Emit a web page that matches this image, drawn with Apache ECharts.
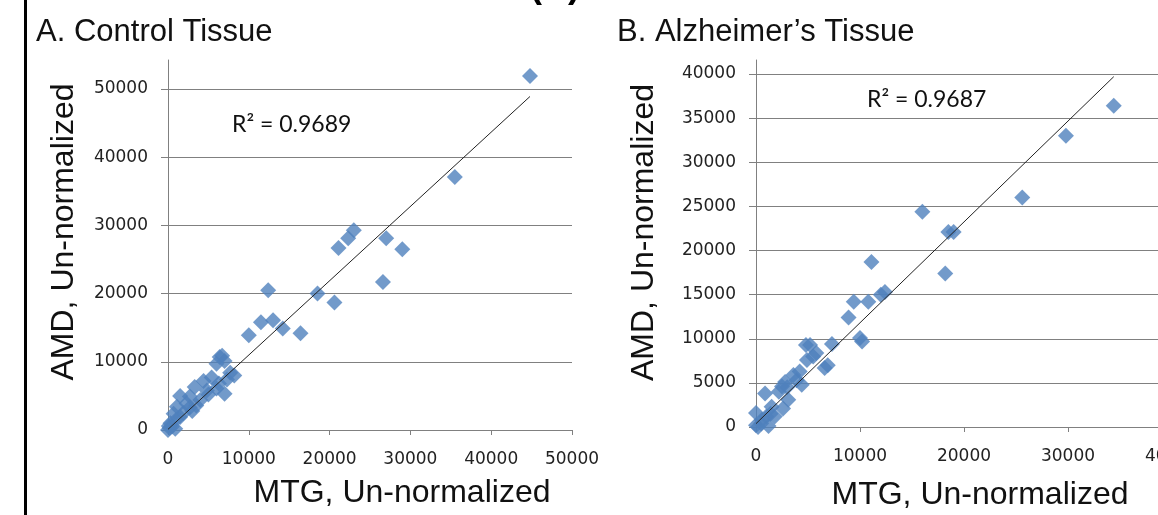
<!DOCTYPE html>
<html>
<head>
<meta charset="utf-8">
<script src="https://cdn.jsdelivr.net/npm/echarts@6/dist/echarts.min.js"></script>
<style>
html, body { margin: 0; padding: 0; background: #fff; }
#main { width: 1158px; height: 515px; }
</style>
</head>
<body>
<div id="main"></div>
<script>
// [MTG, AMD] un-normalized
const controlPoints = [
	[44800, 51900], [35500, 37100], [23000, 29300], [22300, 28100], [21100, 26700],
	[27000, 28100], [29000, 26500], [26600, 21700], [20600, 18700], [18500, 20000],
	[12400, 20500], [10000, 13900], [11500, 15800], [13000, 16100], [14200, 14900],
	[16400, 14200], [6400, 10700], [6700, 10900], [7000, 10100], [6000, 9700],
	[7700, 8400], [7000, 5300], [5400, 7700], [4400, 7200], [3300, 6300],
	[1500, 5000], [2700, 4900], [2300, 3900], [4000, 4400], [4800, 5800],
	[1100, 3400], [700, 2400], [1900, 2500], [300, 1000], [0, 0],
	[200, 300], [1000, 1500], [2700, 3300], [6300, 6800], [7300, 7400],
	[8200, 8000], [500, 500], [1500, 1900], [3500, 3600], [5000, 5200],
	[6000, 6100], [3000, 2800], [100, 600], [900, 200]
]
const alzPoints = [
	[34400, 36400], [29800, 33000], [25600, 26000], [16000, 24400], [18500, 22100],
	[19000, 22100], [11100, 18700], [18200, 17400], [12400, 15300], [12000, 15000],
	[10800, 14200], [9400, 14200], [8900, 12400], [10000, 10100], [10200, 9700],
	[5200, 9300], [4800, 9300], [5800, 8400], [7300, 9400], [6600, 6700],
	[6900, 7000], [4900, 7600], [870, 3800], [2800, 5100], [3600, 5900],
	[4400, 4800], [2200, 4000], [3100, 3100], [2600, 2100], [1500, 2300],
	[0, 1600], [550, 800], [0, 200], [200, 0], [1200, 100],
	[1000, 1200], [1800, 1200], [3000, 4500], [3900, 5300], [2500, 4600],
	[500, 400], [1400, 1500], [4200, 6300], [5500, 8000]
]
// linear trendline end points
const controlTrend = [[0, 100], [44800, 48900]]
const alzTrend = [[0, 380], [34400, 39700]]

const controlTicks = [0, 10000, 20000, 30000, 40000, 50000]
const alzXTicks = [0, 10000, 20000, 30000, 40000]
const alzYTicks = [0, 5000, 10000, 15000, 20000, 25000, 30000, 35000, 40000]

const controlR2 = 'R\u00b2 = 0.9689'
const alzR2 = 'R\u00b2 = 0.9687'

const gray = '#808080'
const tickFont = { fontFamily: 'DejaVu Sans', fontSize: 17, color: '#222' }
const nameFont = { fontFamily: 'Liberation Sans', fontSize: 32, color: '#111' }
const plain = v => String(v)

function xAxis(grid, max, ticks, gap, pad) {
	return {
		gridIndex: grid,
		type: 'value',
		min: 0,
		max: max,
		interval: 10000,
		axisLine: { show: true, onZero: false, lineStyle: { color: gray } },
		axisTick: { show: true, length: 5, customValues: ticks, lineStyle: { color: gray } },
		axisLabel: Object.assign({ margin: 21, customValues: ticks, formatter: plain, hideOverlap: false }, tickFont),
		splitLine: { show: false },
		name: 'MTG, Un-normalized',
		nameLocation: 'middle',
		nameGap: gap,
		nameTextStyle: Object.assign({ padding: [0, 0, 0, pad] }, nameFont)
	}
}

function yAxis(grid, max, interval, ticks, gap, pad) {
	return {
		gridIndex: grid,
		type: 'value',
		min: 0,
		max: max,
		interval: interval,
		axisLine: { show: true, onZero: false, lineStyle: { color: gray } },
		axisTick: { show: true, length: 7, customValues: ticks, lineStyle: { color: gray } },
		axisLabel: Object.assign({ margin: 20, customValues: ticks, formatter: plain, hideOverlap: false }, tickFont),
		splitLine: { show: true, lineStyle: { color: gray, width: 1 } },
		name: 'AMD, Un-normalized',
		nameLocation: 'middle',
		nameRotate: 90,
		nameGap: gap,
		nameTextStyle: Object.assign({ padding: [0, 0, 0, pad] }, nameFont)
	}
}

function scatter(i, data) {
	return {
		type: 'scatter',
		xAxisIndex: i,
		yAxisIndex: i,
		symbol: 'diamond',
		symbolSize: 16,
		clip: false,
		itemStyle: { color: '#4F81BD' },
		data: data
	}
}

function trend(i, data) {
	return {
		type: 'line',
		xAxisIndex: i,
		yAxisIndex: i,
		showSymbol: false,
		silent: true,
		lineStyle: { color: '#222', width: 1 },
		data: data
	}
}

const chart = echarts.init(document.getElementById('main'))
const titleStyle = { fontFamily: 'Liberation Sans', fontSize: 31, fontWeight: 'normal', color: '#111', lineHeight: 31 }
const r2Style = { fontFamily: 'Lato', fontSize: 23, fontWeight: 'normal', color: '#111', lineHeight: 23 }

chart.setOption({
	animation: false,
	title: [
		{ text: 'A. Control Tissue', left: 31, top: 12, textStyle: titleStyle },
		{ text: 'B. Alzheimer\u2019s Tissue', left: 612, top: 12, textStyle: titleStyle },
		{ text: controlR2, left: 227, top: 108, textStyle: r2Style },
		{ text: alzR2, left: 862, top: 83, textStyle: r2Style }
	],
	graphic: [
		{ type: 'rect', shape: { x: 24, y: 0, width: 3, height: 515 }, style: { fill: '#000' } },
		{
			type: 'text', x: 555, y: -31,
			style: { text: '(B)', fontFamily: 'Liberation Sans', fontSize: 36, fontWeight: 'bold', fill: '#000', align: 'center', verticalAlign: 'top' }
		}
	],
	grid: [
		{ left: 168, top: 60, width: 404, height: 370, outerBoundsMode: 'none' },
		{ left: 756, top: 60, width: 416, height: 367, outerBoundsMode: 'none' }
	],
	xAxis: [
		xAxis(0, 50000, controlTicks, 47, 64),
		xAxis(1, 40000, alzXTicks, 52, 32)
	],
	yAxis: [
		yAxis(0, 54250, 10000, controlTicks, 88, 26),
		yAxis(1, 41590, 5000, alzYTicks, 96, 22)
	],
	series: [
		scatter(0, controlPoints),
		trend(0, controlTrend),
		scatter(1, alzPoints),
		trend(1, alzTrend)
	]
})
</script>
</body>
</html>
